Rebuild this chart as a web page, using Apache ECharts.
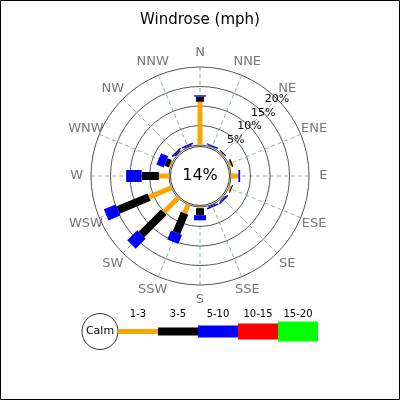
<!DOCTYPE html>
<html><head><meta charset="utf-8">
<script src="https://cdn.jsdelivr.net/npm/echarts@6/dist/echarts.min.js"></script>
<style>html,body{margin:0;padding:0;background:#fff}#c{width:400px;height:400px}</style>
</head><body><div id="c"></div>
<script>
// ---- data ----
const directions = ['N','NNE','NE','ENE','E','ESE','SE','SSE','S','SSW','SW','WSW','W','WNW','NW','NNW'];
const speedBins = ['1-3','3-5','5-10','10-15','15-20'];
const freq_1_3   = [11.1,0.1,0.2,0.5,1.9,0.5,0.2,0.1,0.3,2.4,5.2,6.2,2.6,0.3,0.1,0.1];
const freq_3_5   = [1.3,0.1,0.3,0.4,0,0.3,0.2,0.2,1.8,5.4,8.1,8.6,4.4,1.2,0.3,0.2];
const freq_5_10  = [0.35,0.3,0,0,0.45,0,0.4,0.4,1.3,2.5,3.6,3.3,4.0,2.0,0.4,0.4];
const freq_10_15 = [0,0,0,0,0,0,0,0,0,0,0,0,0,0,0,0];
const freq_15_20 = [0,0,0,0,0,0,0,0,0,0,0,0,0,0,0,0];
const calmPct = 14;
const radiusMax = 20;
const radiusStep = 5;

// ---- style ----
const binColors = ['#ffa500','#000000','#0000ff','#ff0000','#00ff00'];
const binWidths = [5, 8, 12, 16, 20];
const FONT = 'DejaVu Sans';
const CX = 200, CY = 176, R_IN = 31, R_OUT = 109;
const LABEL_R = 23.7; // radius-axis units, just outside the outer ring

const seriesData = [freq_1_3, freq_3_5, freq_5_10, freq_10_15, freq_15_20];
// the radius axis runs along the angle axis start -> start the angle axis at NE
const startIdx = 2;
const step = 360 / directions.length;
const dirAngle = i => ((i - startIdx + directions.length) % directions.length) * step;

const series = seriesData.map((arr, b) => ({
  type: 'custom',
  coordinateSystem: 'polar',
  name: speedBins[b],
  z: 3,
  data: arr.map((v, i) => {
    let base = 0;
    for (let k = 0; k < b; k++) base += seriesData[k][i];
    return [base, dirAngle(i), base + v];
  }),
  encode: { radius: [0, 2], angle: 1 },
  renderItem: function (params, api) {
    const r0 = api.value(0), a = api.value(1), r1 = api.value(2);
    if (!(r1 - r0 > 0)) return null;
    const p0 = api.coord([r0, a]), p1 = api.coord([r1, a]);
    const dx = p1[0] - p0[0], dy = p1[1] - p0[1];
    const len = Math.hypot(dx, dy) || 1;
    const w = binWidths[b] / 2;
    const nx = -dy / len * w, ny = dx / len * w;
    return {
      type: 'polygon',
      shape: { points: [[p0[0]+nx, p0[1]+ny], [p1[0]+nx, p1[1]+ny], [p1[0]-nx, p1[1]-ny], [p0[0]-nx, p0[1]-ny]] },
      style: { fill: binColors[b] }
    };
  }
}));

// direction labels, centred just outside the outer ring
series.push({
  type: 'custom',
  coordinateSystem: 'polar',
  name: 'directions',
  silent: true,
  data: directions.map((d, i) => [LABEL_R, dirAngle(i), d]),
  encode: { radius: 0, angle: 1 },
  renderItem: function (params, api) {
    const p = api.coord([api.value(0), api.value(1)]);
    return { type: 'text', style: { text: directions[params.dataIndex], x: p[0], y: p[1], align: 'center', verticalAlign: 'middle',
      font: '13px "' + FONT + '"', fill: '#777' } };
  }
});

// legend graphic
const legendEls = [];
const LX0 = 118, LY = 331.5, LSEG = 40;
legendEls.push({ type: 'circle', shape: { cx: 100, cy: LY, r: 18 }, style: { fill: '#fff', stroke: '#000', lineWidth: 0.8 }, z: 100 });
legendEls.push({ type: 'text', style: { text: 'Calm', x: 100, y: LY, align: 'center', verticalAlign: 'middle', font: '11px "' + FONT + '"', fill: '#000' }, z: 101 });
speedBins.forEach((name, b) => {
  legendEls.push({ type: 'rect', shape: { x: LX0 + b * LSEG, y: LY - binWidths[b] / 2, width: LSEG, height: binWidths[b] }, style: { fill: binColors[b] }, z: 100 });
  legendEls.push({ type: 'text', style: { text: name, x: LX0 + b * LSEG + LSEG / 2, y: 314, align: 'center', verticalAlign: 'middle', font: '10px "' + FONT + '"', fill: '#000' }, z: 100 });
});

const chart = echarts.init(document.getElementById('c'), null, { renderer: 'canvas' });
chart.setOption({
  animation: false,
  backgroundColor: '#fff',
  textStyle: { fontFamily: FONT },
  title: { text: 'Windrose (mph)', left: 'center', top: 8, textStyle: { fontSize: 15, fontWeight: 'normal', color: '#000', fontFamily: FONT } },
  polar: { center: [CX, CY], radius: [R_IN, R_OUT] },
  angleAxis: {
    type: 'value',
    min: 0, max: 360, interval: step,
    startAngle: 45,
    clockwise: true,
    axisLine: { show: false },
    axisTick: { show: false },
    axisLabel: { show: false },
    splitLine: { show: true, lineStyle: { color: '#3a8a3a', type: [4, 3], width: 0.8, opacity: 0.75 } }
  },
  radiusAxis: {
    type: 'value',
    min: 0, max: radiusMax, interval: radiusStep,
    axisLine: { show: false },
    axisTick: { show: false },
    axisLabel: { margin: 0, align: 'center', verticalAlign: 'middle', fontSize: 11, color: '#000', fontFamily: FONT,
      formatter: v => v === 0 ? '' : v + '%' },
    splitLine: { show: true, lineStyle: { color: '#555', width: 1 } }
  },
  series: series,
  graphic: [
    { type: 'rect', shape: { x: 0.5, y: 0.5, width: 399, height: 399 }, style: { fill: null, stroke: '#000', lineWidth: 1 }, z: 100 },
    { type: 'circle', shape: { cx: CX, cy: CY, r: 29.5 }, style: { fill: '#fff', stroke: '#000', lineWidth: 0.8 }, z: 100 },
    { type: 'text', style: { text: calmPct + '%', x: CX, y: CY, align: 'center', verticalAlign: 'middle', font: '16px "' + FONT + '"', fill: '#000' }, z: 101 }
  ].concat(legendEls)
});
</script></body></html>
